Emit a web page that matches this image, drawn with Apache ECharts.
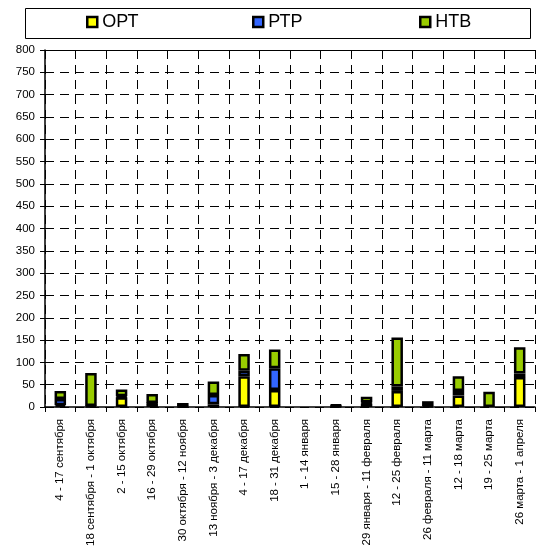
<!DOCTYPE html>
<html><head><meta charset="utf-8">
<script src="https://cdn.jsdelivr.net/npm/echarts@6/dist/echarts.min.js"></script>
<style>html,body{margin:0;padding:0;background:#fff}#c{width:541px;height:556px}</style>
</head><body><div id="c"></div>
<script>
var categories = ["4 - 17 сентября","18 сентября - 1 октября","2 - 15 октября","16 - 29 октября","30 октября - 12 ноября","13 ноября - 3 декабря","4 - 17 декабря","18 - 31 декабря","1 - 14 января","15 - 28 января","29 января - 11 февраля","12 - 25 февраля","26 февраля - 11 марта","12 - 18 марта","19 - 25 марта","26 марта - 1 апреля"];
var opt = [4, 2, 22, 8, 1, 6, 69, 38, 0, 2, 8, 36, 2, 26, 0, 67];
var ptp = [14, 0, 2, 1, 0, 21, 12, 49, 0, 1, 2, 10, 0, 10, 0, 8];
var htb = [18, 74, 15, 20, 8, 30, 38, 42, 0, 2, 13, 110, 11, 33, 34, 59];
var seriesNames = ["ОРТ", "РТР", "НТВ"];
var colors = ["#ffff00", "#3366ff", "#99cc00"];

var chart = echarts.init(document.getElementById('c'), null, {renderer: 'canvas'});
var font = "Liberation Sans, Arial, sans-serif";
function mk(name, data, color) {
  return {name: name, type: 'bar', stack: 's',
    data: data.map(function (v) { return v === 0 ? '-' : v; }), barWidth: 11.5,
    itemStyle: {color: color, borderColor: '#000', borderWidth: 2.5},
    emphasis: {disabled: true}};
}
function lg(name, left) {
  return {data: [name], left: left, top: 13, itemWidth: 10, itemHeight: 10, itemGap: 0,
    icon: 'rect', textStyle: {fontFamily: font, fontSize: 18, color: '#000', padding: [0,0,0,0]},
    itemStyle: {borderColor: '#000', borderWidth: 2.5}, selectedMode: false, padding: 0};
}
var dash = [9, 6];
chart.setOption({
  animation: false,
  textStyle: {fontFamily: font},
  graphic: [{type: 'rect', shape: {x: 25.5, y: 8.5, width: 505, height: 30},
    style: {fill: '#fff', stroke: '#000', lineWidth: 1}, z: -1}],
  legend: [lg(seriesNames[0], 86), lg(seriesNames[1], 252), lg(seriesNames[2], 419)],
  grid: {left: 45, right: 6, top: 50, bottom: 149},
  xAxis: [{type: 'category', data: categories, boundaryGap: true,
    axisLine: {lineStyle: {color: '#000', width: 1.5}},
    axisTick: {show: true, length: 5, lineStyle: {color: '#000'}},
    axisLabel: {rotate: 90, fontSize: 11.5, color: '#000', fontFamily: font, interval: 0, margin: 12},
    splitLine: {show: true, lineStyle: {color: '#000', type: dash, width: 1}}},
    {type: 'category', data: categories, position: 'top',
    axisLine: {lineStyle: {color: '#000', width: 1}},
    axisTick: {show: false}, axisLabel: {show: false}, splitLine: {show: false}}],
  yAxis: {type: 'value', min: 0, max: 800, interval: 50,
    axisLine: {show: true, lineStyle: {color: '#000', width: 1.5}},
    axisTick: {show: true, length: 5, lineStyle: {color: '#000'}},
    axisLabel: {fontSize: 11.5, color: '#000', fontFamily: font, margin: 10},
    splitLine: {show: true, lineStyle: {color: '#000', type: dash, width: 1}}},
  series: [mk(seriesNames[0], opt, colors[0]), mk(seriesNames[1], ptp, colors[1]), mk(seriesNames[2], htb, colors[2])]
});
</script></body></html>
